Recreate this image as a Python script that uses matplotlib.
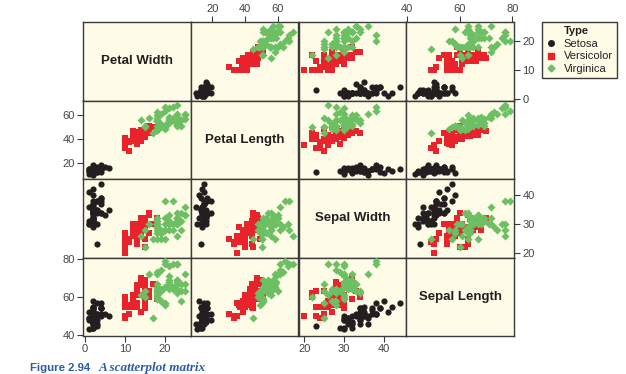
import matplotlib
matplotlib.use('Agg')
import matplotlib.pyplot as plt
from matplotlib.lines import Line2D

plt.rcParams['font.family'] = ['Liberation Sans', 'DejaVu Sans']

# iris measurements in mm: sepal length, sepal width, petal length, petal width
setosa_sl = [51, 49, 47, 46, 50, 54, 46, 50, 44, 49, 54, 48, 48, 43, 58, 57, 54, 51, 57, 51, 54, 51, 46, 51, 48,
             50, 50, 52, 52, 47, 48, 54, 52, 55, 49, 50, 55, 49, 44, 51, 50, 45, 44, 50, 51, 48, 51, 46, 53, 50]
setosa_sw = [35, 30, 32, 31, 36, 39, 34, 34, 29, 31, 37, 34, 30, 30, 40, 44, 39, 35, 38, 38, 34, 37, 36, 33, 34,
             30, 34, 35, 34, 32, 31, 34, 41, 42, 31, 32, 35, 36, 30, 34, 35, 23, 32, 35, 38, 30, 38, 32, 37, 33]
setosa_pl = [14, 14, 13, 15, 14, 17, 14, 15, 14, 15, 15, 16, 14, 11, 12, 15, 13, 14, 17, 15, 17, 15, 10, 17, 19,
             16, 16, 15, 14, 16, 16, 15, 15, 14, 15, 12, 13, 14, 13, 15, 13, 13, 13, 16, 19, 14, 16, 14, 15, 14]
setosa_pw = [2, 2, 2, 2, 2, 4, 3, 2, 2, 1, 2, 2, 1, 1, 2, 4, 4, 3, 3, 3, 2, 4, 2, 5, 2,
             2, 4, 2, 2, 2, 2, 4, 1, 2, 2, 2, 2, 1, 2, 2, 3, 3, 2, 6, 4, 3, 2, 2, 2, 2]

versicolor_sl = [70, 64, 69, 55, 65, 57, 63, 49, 66, 52, 50, 59, 60, 61, 56, 67, 56, 58, 62, 56, 59, 61, 63, 61, 64,
                 66, 68, 67, 60, 57, 55, 55, 58, 60, 54, 60, 67, 63, 56, 55, 55, 61, 58, 50, 56, 57, 57, 62, 51, 57]
versicolor_sw = [32, 32, 31, 23, 28, 28, 33, 24, 29, 27, 20, 30, 22, 29, 29, 31, 30, 27, 22, 25, 32, 28, 25, 28, 29,
                 30, 28, 30, 29, 26, 24, 24, 27, 27, 30, 34, 31, 23, 30, 25, 26, 30, 26, 23, 27, 30, 29, 29, 25, 28]
versicolor_pl = [47, 45, 49, 40, 46, 45, 47, 33, 46, 39, 35, 42, 40, 47, 36, 44, 45, 41, 45, 39, 48, 40, 49, 47, 43,
                 44, 48, 50, 45, 35, 38, 37, 39, 51, 45, 45, 47, 44, 41, 40, 44, 46, 40, 33, 42, 42, 42, 43, 30, 41]
versicolor_pw = [14, 15, 15, 13, 15, 13, 16, 10, 13, 14, 10, 15, 10, 14, 13, 14, 15, 10, 15, 11, 18, 13, 15, 12, 13,
                 14, 14, 17, 15, 10, 11, 10, 12, 16, 15, 16, 15, 13, 13, 13, 12, 14, 12, 10, 13, 12, 13, 13, 11, 13]

virginica_sl = [63, 58, 71, 63, 65, 76, 49, 73, 67, 72, 65, 64, 68, 57, 58, 64, 65, 77, 77, 60, 69, 56, 77, 63, 67,
                72, 62, 61, 64, 72, 74, 79, 64, 63, 61, 77, 63, 64, 60, 69, 67, 69, 58, 68, 67, 67, 63, 65, 62, 59]
virginica_sw = [33, 27, 30, 29, 30, 30, 25, 29, 25, 36, 32, 27, 30, 25, 28, 32, 30, 38, 26, 22, 32, 28, 28, 27, 33,
                32, 28, 30, 28, 30, 28, 38, 28, 28, 26, 30, 34, 31, 30, 31, 31, 31, 27, 32, 33, 30, 25, 30, 34, 30]
virginica_pl = [60, 51, 59, 56, 58, 66, 45, 63, 58, 61, 51, 53, 55, 50, 51, 53, 55, 67, 69, 50, 57, 49, 67, 49, 57,
                60, 48, 49, 56, 58, 61, 64, 56, 51, 56, 61, 56, 55, 48, 54, 56, 51, 51, 59, 57, 52, 50, 52, 54, 51]
virginica_pw = [25, 19, 21, 18, 22, 21, 17, 18, 18, 25, 20, 19, 21, 20, 24, 23, 18, 22, 23, 15, 23, 20, 20, 18, 21,
                18, 18, 18, 21, 16, 19, 20, 22, 15, 14, 23, 24, 18, 18, 21, 24, 23, 19, 23, 25, 23, 19, 20, 23, 18]

var_names = ['Petal Width', 'Petal Length', 'Sepal Width', 'Sepal Length']
var_lims = [(-0.5, 26.4), (6.9, 72.5), (18.5, 45.6), (39.6, 80.6)]
var_ticks = [[0, 10, 20], [20, 40, 60], [20, 30, 40], [40, 60, 80]]
species = ['Setosa', 'Versicolor', 'Virginica']

data = {
    'Setosa': [setosa_pw, setosa_pl, setosa_sw, setosa_sl],
    'Versicolor': [versicolor_pw, versicolor_pl, versicolor_sw, versicolor_sl],
    'Virginica': [virginica_pw, virginica_pl, virginica_sw, virginica_sl],
}
styles = {
    'Setosa': dict(marker='o', color='#231f20', s=20),
    'Versicolor': dict(marker='s', color='#e8232b', s=19),
    'Virginica': dict(marker='D', color='#6cbf62', s=17),
}

bg = '#fefbe6'
edge = '#3a3a3a'
tick_col = '#444444'

fig = plt.figure(figsize=(6.26, 3.74), dpi=100)
fig.patch.set_facecolor('white')

left, right, top, bottom = 83 / 626, 514 / 626, 1 - 22 / 374, 1 - 336 / 374
w = (right - left) / 4
h = (top - bottom) / 4

for i in range(4):
    for j in range(4):
        ax = fig.add_axes([left + j * w, top - (i + 1) * h, w, h])
        ax.set_facecolor(bg)
        ax.set_xlim(var_lims[j])
        ax.set_ylim(var_lims[i])
        for s in ax.spines.values():
            s.set_color(edge)
            s.set_linewidth(1.0)
        ax.set_xticks([])
        ax.set_yticks([])
        if i == j:
            ax.text(0.5, 0.5, var_names[i], transform=ax.transAxes, ha='center', va='center',
                    fontsize=9.5, fontweight='bold', color='#231f20')
        else:
            for sp in species:
                ax.scatter(data[sp][j], data[sp][i], linewidths=0, zorder=3, **styles[sp])
        # tick axes on alternating sides
        if i == 0 and j % 2 == 1:
            ax.set_xticks(var_ticks[j])
            ax.xaxis.tick_top()
        if i == 3 and j % 2 == 0:
            ax.set_xticks(var_ticks[j])
            ax.xaxis.tick_bottom()
        if j == 0 and i % 2 == 1:
            ax.set_yticks(var_ticks[i])
            ax.yaxis.tick_left()
        if j == 3 and i % 2 == 0:
            ax.set_yticks(var_ticks[i])
            ax.yaxis.tick_right()
        ax.tick_params(length=4, width=0.8, color=edge, labelsize=8, labelcolor=tick_col, pad=2)

handles = [Line2D([], [], linestyle='none')]
labels = ['Type']
for sp in species:
    st = styles[sp]
    handles.append(Line2D([], [], linestyle='none', marker=st['marker'], color=st['color'],
                          markersize=4 if st['marker'] != 'D' else 3.5))
    labels.append(sp)
leg = fig.legend(handles, labels, loc='upper left', bbox_to_anchor=(542 / 626, 1 - 22 / 374),
                 fontsize=8, frameon=True, fancybox=False, edgecolor=edge, facecolor=bg,
                 framealpha=1, borderpad=0.35, borderaxespad=0, handlelength=0.9, handletextpad=0.7,
                 labelspacing=0.25)
leg.get_frame().set_linewidth(1.0)
for t in leg.get_texts():
    t.set_color('#231f20')
leg.get_texts()[0].set_fontweight('bold')

t1 = fig.text(30 / 626, 1 - 368 / 374, 'Figure 2.94', fontsize=8.2, fontweight='bold',
              color='#2c5ca6', va='center')
fig.text(99 / 626, 1 - 368 / 374, 'A scatterplot matrix', fontsize=9.5, fontweight='bold',
         fontstyle='italic', family='Liberation Serif', color='#2c5ca6', va='center')

fig.savefig('out.png', dpi=100)
